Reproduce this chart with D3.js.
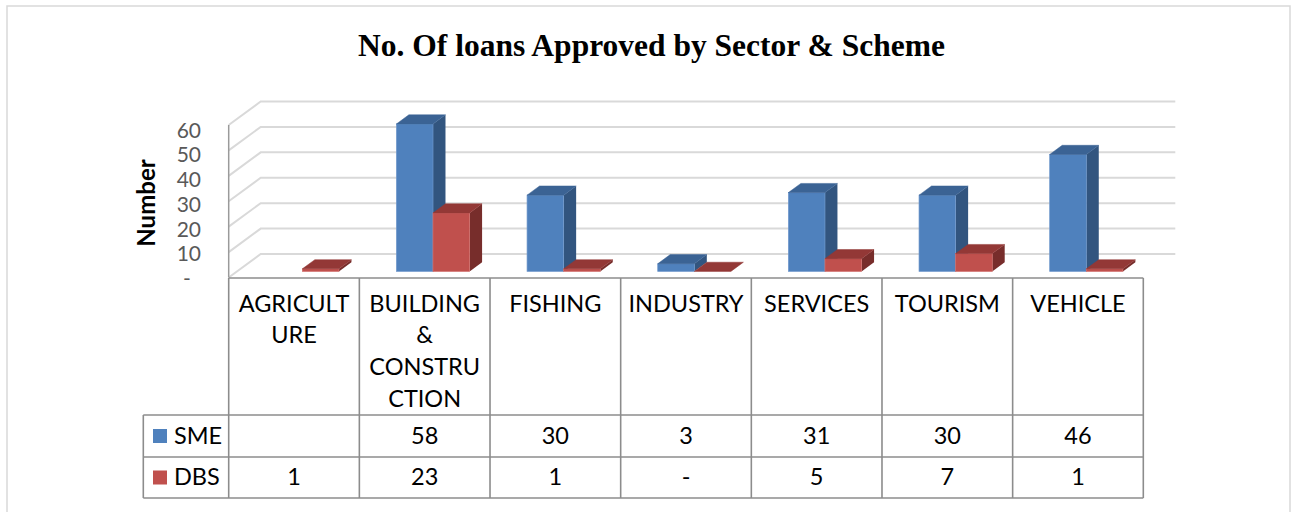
<!DOCTYPE html>
<html>
<head>
<meta charset="utf-8">
<script src="https://cdn.jsdelivr.net/npm/d3@7"></script>
<style>
  html, body { margin: 0; padding: 0; background: #ffffff; }
  svg { display: block; }
</style>
</head>
<body>
<svg id="chart" width="1300" height="512"></svg>
<script>
// Loans approved per sector, split by scheme
const categories = ["AGRICULTURE", "BUILDING & CONSTRUCTION", "FISHING", "INDUSTRY", "SERVICES", "TOURISM", "VEHICLE"];
const categoryLines = [["AGRICULT", "URE"], ["BUILDING", "&", "CONSTRU", "CTION"], ["FISHING"], ["INDUSTRY"], ["SERVICES"], ["TOURISM"], ["VEHICLE"]];
const seriesNames = ["SME", "DBS"];
const smeValues = [null, 58, 30, 3, 31, 30, 46];
const dbsValues = [1, 23, 1, 0, 5, 7, 1];
const yTicks = [0, 10, 20, 30, 40, 50, 60];

const seriesValues = { SME: smeValues, DBS: dbsValues };
const colors = {
  SME: { front: "#4f81bd", top: "#3b6394", side: "#32557f", edge: "#6f98cc" },
  DBS: { front: "#c0504d", top: "#933836", side: "#772d2b", edge: "#d06e6b" }
};

const svg = d3.select("#chart");
const W = 1300;

// outer frame
svg.append("rect")
  .attr("x", 7).attr("y", 6).attr("width", 1283).attr("height", 520)
  .attr("fill", "#ffffff").attr("stroke", "#d9d9d9").attr("stroke-width", 1.5);

// title
svg.append("text")
  .attr("x", 651.5).attr("y", 56)
  .attr("text-anchor", "middle")
  .attr("font-family", "'Liberation Serif', 'Times New Roman', serif")
  .attr("font-weight", "bold")
  .attr("font-size", 31.5)
  .attr("fill", "#000")
  .text("No. Of loans Approved by Sector & Scheme");

// scales
const plotLeft = 228.7, plotRight = 1143.3;
const x = d3.scaleBand().domain(categories).range([plotLeft, plotRight]).padding(0);
const xs = d3.scaleBand().domain(seriesNames).range([0, x.bandwidth()]).paddingInner(0).paddingOuter(0.785);
const y = d3.scaleLinear().domain([0, 60]).range([277.5, 125]);
const tickY = d3.scaleLinear().domain([0, 60]).range([278.5, 130]);

// 3D projection of the depth axis
const wallDX = 32, wallDY = -23.5;
const barFront = 0.26, barDepth = 0.39;
const fdx = wallDX * barFront, fdy = wallDY * barFront;
const bdx = wallDX * barDepth, bdy = wallDY * barDepth;

// gridlines on side wall and back wall
const grid = svg.append("g").attr("stroke", "#d9d9d9").attr("stroke-width", 2).attr("fill", "none");
yTicks.forEach(v => {
  const y0 = y(v);
  grid.append("path")
    .attr("d", `M${plotLeft},${y0}L${plotLeft + wallDX},${y0 + wallDY}L${plotRight + wallDX},${y0 + wallDY}`);
});

// vertical value axis line
svg.append("line")
  .attr("x1", plotLeft).attr("x2", plotLeft)
  .attr("y1", y(60)).attr("y2", y(0))
  .attr("stroke", "#9a9a9a").attr("stroke-width", 1.5);

// tick labels
svg.append("g").selectAll("text").data(yTicks).join("text")
  .attr("x", d => d === 0 ? 187 : 201)
  .attr("y", d => tickY(d))
  .attr("dy", "0.36em")
  .attr("text-anchor", d => d === 0 ? "middle" : "end")
  .attr("font-family", "Lato, sans-serif")
  .attr("font-size", 21)
  .attr("fill", "#595959")
  .text(d => d === 0 ? "-" : d);

// axis title
svg.append("text")
  .attr("transform", "translate(155,203) rotate(-90)")
  .attr("text-anchor", "middle")
  .attr("font-family", "Lato, sans-serif")
  .attr("font-weight", "bold")
  .attr("font-size", 24)
  .attr("fill", "#000")
  .text("Number");

// 3D columns
const bars = svg.append("g");
categories.forEach((cat, i) => {
  seriesNames.forEach(s => {
    const v = seriesValues[s][i];
    if (v === null || v === undefined) return;
    const c = colors[s];
    const x0 = x(cat) + xs(s) + fdx;
    const x1 = x0 + xs.bandwidth();
    const yb = y(0) + fdy;
    const yt = y(v) + fdy;
    const g = bars.append("g");
    // side face
    g.append("path")
      .attr("d", `M${x1},${yt}L${x1 + bdx},${yt + bdy}L${x1 + bdx},${yb + bdy}L${x1},${yb}Z`)
      .attr("fill", c.side);
    // front face
    if (yb - yt > 0) {
      g.append("rect")
        .attr("x", x0).attr("y", yt).attr("width", x1 - x0).attr("height", yb - yt)
        .attr("fill", c.front).attr("stroke", c.edge).attr("stroke-width", 0.7);
    }
    // top face
    g.append("path")
      .attr("d", `M${x0},${yt}L${x0 + bdx},${yt + bdy}L${x1 + bdx},${yt + bdy}L${x1},${yt}Z`)
      .attr("fill", c.top).attr("stroke", c.top).attr("stroke-width", 0.5);
  });
});

// data table under the plot
const tableTop = y(0) + 0.5, headerBottom = 415, row1Bottom = 457, tableBottom = 498;
const legendLeft = 143.3;
const tbl = svg.append("g").attr("stroke", "#8c8c8c").attr("stroke-width", 1.6).attr("fill", "none");
tbl.append("line").attr("x1", plotLeft).attr("x2", plotRight).attr("y1", tableTop).attr("y2", tableTop);
[headerBottom, row1Bottom, tableBottom].forEach(yy => {
  tbl.append("line").attr("x1", legendLeft).attr("x2", plotRight).attr("y1", yy).attr("y2", yy);
});
const boundaries = categories.map(c => x(c)).concat([plotRight]);
boundaries.forEach(bx => {
  tbl.append("line").attr("x1", bx).attr("x2", bx).attr("y1", tableTop).attr("y2", tableBottom);
});
tbl.append("line").attr("x1", legendLeft).attr("x2", legendLeft).attr("y1", headerBottom).attr("y2", tableBottom);

// category labels
const labelFont = "Lato, sans-serif";
categories.forEach((cat, i) => {
  const t = svg.append("text")
    .attr("text-anchor", "middle")
    .attr("font-family", labelFont)
    .attr("font-size", 23.5)
    .attr("fill", "#000");
  categoryLines[i].forEach((ln, k) => {
    t.append("tspan")
      .attr("x", x(cat) + x.bandwidth() / 2)
      .attr("y", 311.5 + k * 31.7)
      .text(ln);
  });
});

// table rows: legend key and values
const rowBaselines = { SME: 443.5, DBS: 485 };
const rowKeyTop = { SME: 429, DBS: 470.5 };
seriesNames.forEach(s => {
  svg.append("rect")
    .attr("x", 153).attr("y", rowKeyTop[s]).attr("width", 14).attr("height", 14)
    .attr("fill", colors[s].front);
  svg.append("text")
    .attr("x", 174).attr("y", rowBaselines[s])
    .attr("font-family", labelFont).attr("font-size", 23.5).attr("fill", "#000")
    .text(s);
  categories.forEach((cat, i) => {
    const v = seriesValues[s][i];
    svg.append("text")
      .attr("x", x(cat) + x.bandwidth() / 2)
      .attr("y", rowBaselines[s])
      .attr("text-anchor", "middle")
      .attr("font-family", labelFont).attr("font-size", 23.5).attr("fill", "#000")
      .text(v === null ? "" : (v === 0 ? "-" : v));
  });
});
</script>
</body>
</html>
